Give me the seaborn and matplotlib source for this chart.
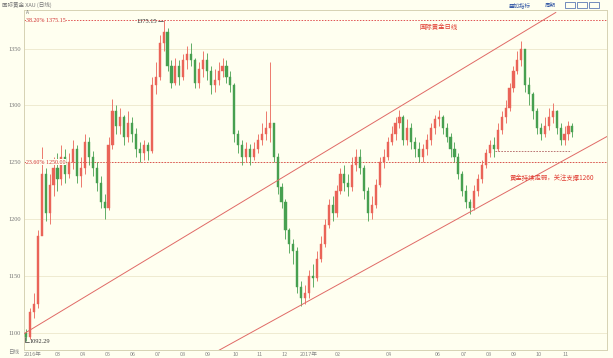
import matplotlib
matplotlib.use("Agg")
import matplotlib.pyplot as plt
import numpy as np
import pandas as pd
import seaborn as sns

# ---------------- data ----------------
first_open = 1100
closes = [1096, 1118, 1125, 1185, 1240, 1205, 1230, 1245, 1235, 1255,
          1240, 1250, 1262, 1238, 1245, 1268, 1255, 1245, 1232, 1215,
          1210, 1265, 1295, 1282, 1290, 1272, 1285, 1275, 1262, 1258,
          1265, 1260, 1318, 1325, 1355, 1365, 1335, 1320, 1335, 1325,
          1340, 1345, 1340, 1320, 1332, 1340, 1330, 1318, 1322, 1330,
          1335, 1325, 1318, 1275, 1265, 1255, 1262, 1255, 1262, 1270,
          1275, 1280, 1285, 1255, 1228, 1215, 1190, 1178, 1172, 1140,
          1130, 1135, 1150, 1148, 1165, 1178, 1195, 1212, 1205, 1225,
          1240, 1232, 1228, 1248, 1255, 1245, 1225, 1205, 1212, 1230,
          1250, 1255, 1268, 1275, 1285, 1290, 1270, 1280, 1268, 1262,
          1255, 1262, 1270, 1280, 1288, 1290, 1280, 1272, 1262, 1255,
          1240, 1225, 1215, 1210, 1225, 1235, 1248, 1258, 1265, 1262,
          1278, 1290, 1298, 1315, 1330, 1340, 1350, 1318, 1310, 1295,
          1280, 1275, 1282, 1290, 1295, 1280, 1270, 1275, 1282, 1277]
highs = [1103, 1122, 1135, 1190, 1263, 1245, 1240, 1255, 1258, 1265,
         1262, 1258, 1270, 1265, 1255, 1275, 1272, 1260, 1250, 1238,
         1222, 1272, 1306, 1300, 1298, 1292, 1295, 1290, 1280, 1268,
         1270, 1268, 1325, 1338, 1362, 1375.15, 1368, 1340, 1342, 1340,
         1345, 1352, 1355, 1342, 1338, 1348, 1346, 1335, 1332, 1338,
         1342, 1340, 1330, 1320, 1278, 1270, 1268, 1266, 1268, 1275,
         1285, 1295, 1338, 1285, 1258, 1232, 1218, 1192, 1182, 1175,
         1145, 1142, 1155, 1160, 1172, 1185, 1200, 1218, 1220, 1230,
         1245, 1248, 1240, 1255, 1262, 1262, 1248, 1228, 1220, 1235,
         1255, 1262, 1272, 1282, 1290, 1296, 1292, 1288, 1285, 1272,
         1268, 1266, 1275, 1285, 1292, 1296, 1292, 1285, 1276, 1268,
         1258, 1242, 1230, 1218, 1230, 1240, 1252, 1262, 1270, 1272,
         1285, 1295, 1305, 1320, 1335, 1348, 1357, 1350, 1325, 1312,
         1298, 1285, 1290, 1298, 1302, 1296, 1285, 1282, 1286, 1285]
lows = [1092.29, 1094, 1113, 1122, 1195, 1198, 1196, 1220, 1225, 1230,
        1232, 1236, 1244, 1232, 1228, 1240, 1248, 1238, 1225, 1210,
        1200, 1208, 1262, 1275, 1275, 1265, 1268, 1268, 1255, 1250,
        1252, 1252, 1258, 1310, 1322, 1348, 1330, 1315, 1318, 1318,
        1322, 1332, 1335, 1315, 1315, 1325, 1322, 1310, 1312, 1318,
        1325, 1320, 1312, 1268, 1258, 1248, 1250, 1248, 1252, 1258,
        1265, 1270, 1268, 1250, 1222, 1210, 1182, 1170, 1160, 1135,
        1123, 1125, 1130, 1140, 1145, 1162, 1175, 1192, 1198, 1202,
        1222, 1225, 1220, 1225, 1242, 1240, 1218, 1198, 1200, 1210,
        1228, 1245, 1252, 1265, 1270, 1280, 1265, 1265, 1262, 1255,
        1250, 1250, 1256, 1265, 1275, 1282, 1275, 1268, 1255, 1250,
        1235, 1220, 1210, 1204, 1208, 1220, 1232, 1245, 1255, 1255,
        1260, 1275, 1285, 1295, 1312, 1328, 1335, 1312, 1300, 1288,
        1275, 1270, 1272, 1278, 1285, 1275, 1265, 1265, 1270, 1272]
opens = [first_open] + closes[:-1]

month_labels = ["2016年", "03", "04", "05", "06", "07", "08", "09", "10", "11", "12",
                "2017年", "02", "04", "06", "07", "08", "09", "10", "11"]
month_pos = [1.7, 8.1, 14.5, 20.9, 27.2, 33.6, 39.9, 46.3, 53.2, 59.5, 65.9,
             71.8, 79.4, 92.4, 104.8, 111.5, 117.8, 124.2, 130.5, 137.2]
y_ticks = [1100, 1150, 1200, 1250, 1300, 1350]

level_high = 1375.15
level_mid = 1250.00
level_support = 1260
upper_trend_x = [-0.5, 134.8]
upper_trend_y = [1099, 1382]
lower_trend_x = [48.9, 148.5]
lower_trend_y = [1084, 1274]

# ---------------- style ----------------
BG = "#fffff0"
sns.set_theme(style="white")
plt.rcParams["font.family"] = ["Noto Sans CJK SC", "DejaVu Sans"]
plt.rcParams["axes.facecolor"] = BG
plt.rcParams["figure.facecolor"] = BG

fig = plt.figure(figsize=(6.13, 3.58), dpi=100)
ax = fig.add_axes([24 / 613, 8 / 358, 583 / 613, 340 / 358])
ax.set_facecolor(BG)

df = pd.DataFrame({"o": opens, "h": highs, "l": lows, "c": closes})
df["i"] = np.arange(len(df))
up = df["c"] >= df["o"]
RED = "#ea6458"
GREEN = "#47a050"
colors = np.where(up, RED, GREEN)

# grid lines
for yv in y_ticks:
    ax.axhline(yv, color="#ece8cc", lw=0.6, zorder=0)

# wicks and bodies
ax.vlines(df["i"], df["l"], df["h"], colors=colors, lw=0.6, zorder=2)
body_lo = np.minimum(df["o"], df["c"])
body_h = np.maximum(np.abs(df["c"] - df["o"]), 0.6)
ax.bar(df["i"], body_h, bottom=body_lo, width=0.55, color=colors,
       edgecolor=colors, linewidth=0.3, zorder=3)

# trend lines
tl = pd.DataFrame({"x": upper_trend_x + lower_trend_x,
                   "y": upper_trend_y + lower_trend_y,
                   "k": ["u", "u", "l", "l"]})
sns.lineplot(data=tl, x="x", y="y", units="k", estimator=None, color="#e06a66",
             lw=0.7, ax=ax, zorder=4, legend=False)

# horizontal levels
ax.axhline(level_high, color="#e05050", lw=0.7, ls=(0, (1.5, 1.5)), zorder=1)
ax.axhline(level_mid, color="#e05050", lw=0.7, ls=(0, (1.5, 1.5)), zorder=1)
ax.plot([119.3, 138.6], [level_support, level_support], color="#b06060",
        lw=0.6, ls=(0, (2, 1.5)), zorder=4)

ax.text(0.0, level_high, "38.20% 1375.15", color="#d03030", fontsize=4.3,
        va="center", ha="left", family=["Liberation Serif", "DejaVu Serif"],
        bbox=dict(facecolor=BG, edgecolor="none", pad=0.2), zorder=5)
ax.text(0.0, level_mid, "23.60% 1250.00", color="#d03030", fontsize=4.3,
        va="center", ha="left", family=["Liberation Serif", "DejaVu Serif"],
        bbox=dict(facecolor=BG, edgecolor="none", pad=0.2), zorder=5)

# extreme annotations
ax.text(33.4, 1374.2, "1375.15", color="#333333", fontsize=4.6, ha="right",
        va="center", family=["Liberation Serif", "DejaVu Serif"], zorder=6)
ax.plot([33.5, 34.9], [1374.2, 1374.2], color="#333333", lw=0.5, zorder=6)
ax.text(1.0, 1092.0, "1092.29", color="#333333", fontsize=4.6, ha="left",
        va="center", family=["Liberation Serif", "DejaVu Serif"], zorder=6)
ax.plot([-0.15, -0.15, 0.8], [1096, 1092, 1092], color="#333333", lw=0.5, zorder=6)

# red comments
ax.text(100.0, 1369, "国际黄金日线", color="#e03a30", fontsize=4.6,
        ha="left", va="center", zorder=6)
ax.text(123.0, 1236, "黄金持续走弱，关注支撑1260", color="#e03a30", fontsize=4.6,
        ha="left", va="center", zorder=6)

# axes
ax.set_xlim(-0.51, 147.8)
ax.set_ylim(1084.6, 1384.1)
ax.set_yticks(y_ticks)
ax.set_yticklabels([str(v) for v in y_ticks], family=["Liberation Serif", "DejaVu Serif"])
ax.set_xticks(month_pos)
ax.set_xticklabels(month_labels)
ax.tick_params(axis="y", length=0, pad=2, labelsize=4.6, labelcolor="#777777")
ax.tick_params(axis="x", length=0, pad=1.2, labelsize=4.0, labelcolor="#888888")
ax.set_xlabel("")
ax.set_ylabel("")
for s in ax.spines.values():
    s.set_color("#d6d2b4")
    s.set_linewidth(0.7)

# header / chrome text
fig.text(2 / 613, 1 - 5 / 358, "国际黄金 XAU (日线)", fontsize=4.0, color="#777777",
         ha="left", va="center")
fig.text(26 / 613, 1 - 12.5 / 358, "A", fontsize=3.5, color="#777777",
         ha="left", va="center")
fig.text(14 / 613, 1 - 353 / 358, "日线", fontsize=4.0, color="#888888",
         ha="center", va="center")
fig.text(520 / 613, 1 - 5 / 358, "叠加指标", fontsize=4.0, color="#3b5ea8",
         ha="center", va="center")
fig.text(550 / 613, 1 - 5 / 358, "周期", fontsize=4.0, color="#3b5ea8",
         ha="center", va="center")
for bx in [565, 577, 589]:
    fig.patches.append(plt.Rectangle((bx / 613, 1 - 8 / 358), 10 / 613, 6 / 358,
                                     transform=fig.transFigure, facecolor="none",
                                     edgecolor="#3b5ea8", lw=0.5))

fig.savefig("out.png", dpi=100, facecolor=BG)
